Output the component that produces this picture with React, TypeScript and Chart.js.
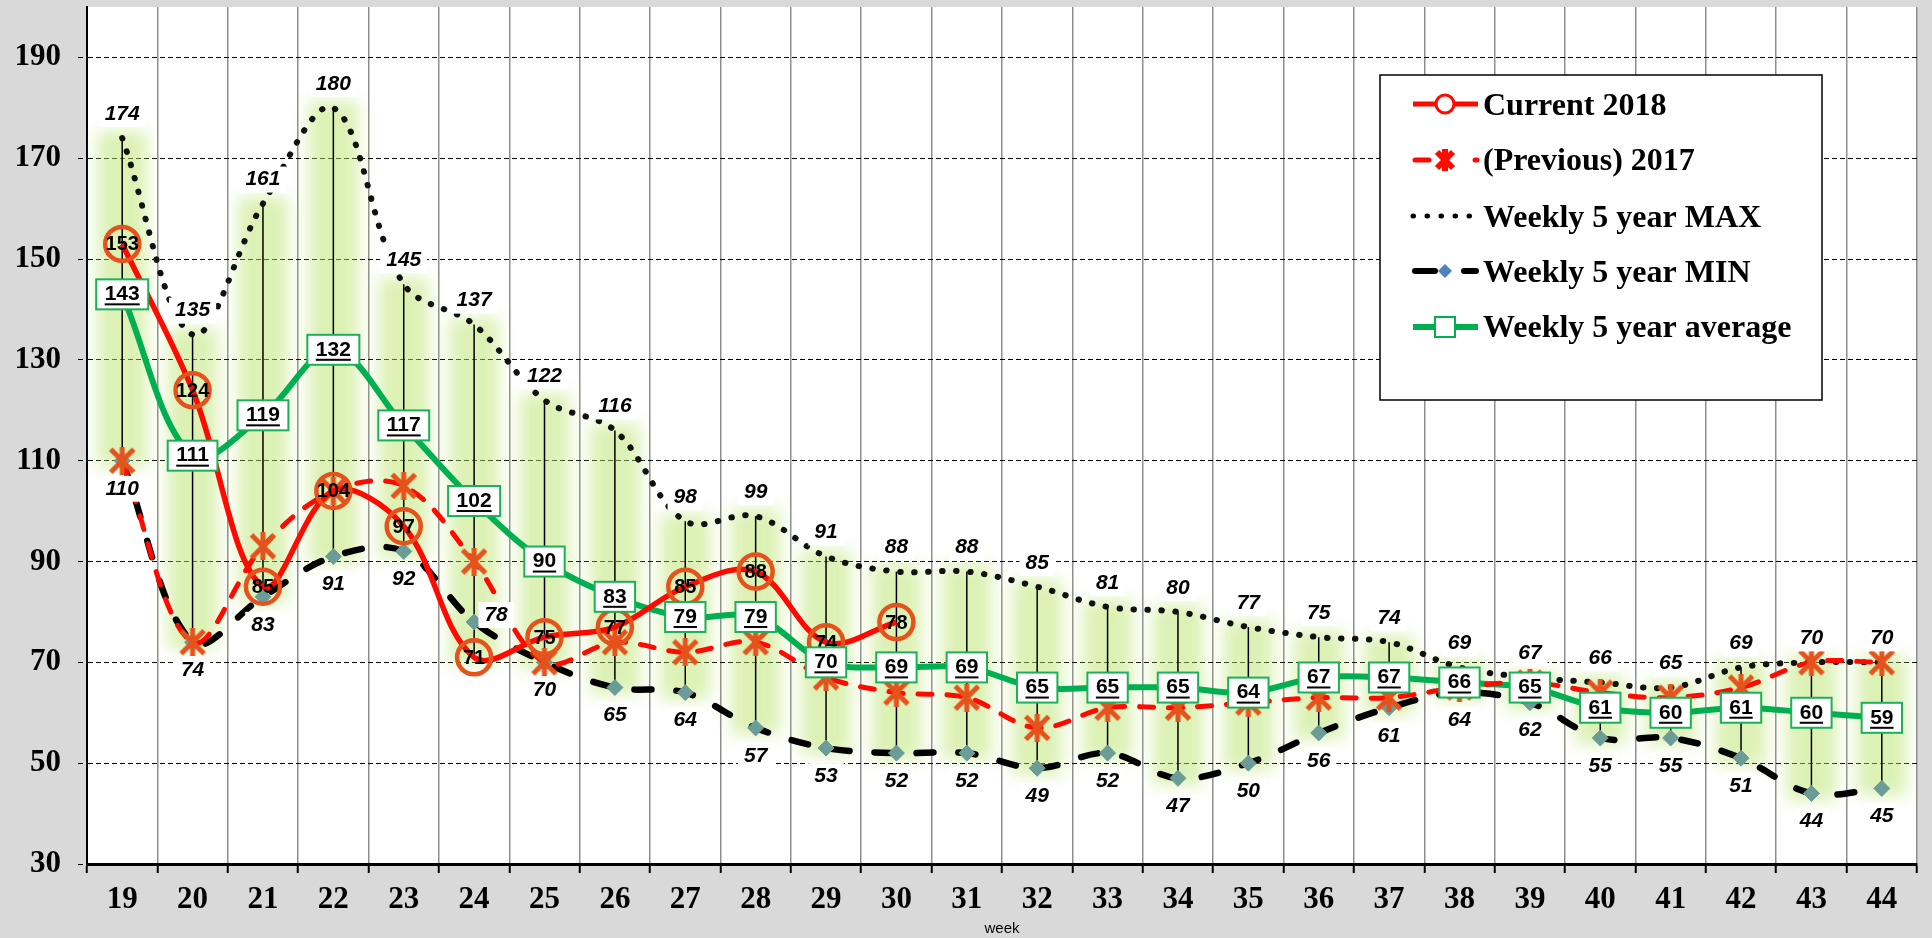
import { useEffect, useRef } from 'react';
import { Chart, registerables } from 'chart.js';

Chart.register(...registerables);

// ---------- data ----------
const weeks = ['19','20','21','22','23','24','25','26','27','28','29','30','31','32','33','34','35','36','37','38','39','40','41','42','43','44'];
const current2018: (number | null)[] = [153,124,85,104,97,71,75,77,85,88,74,78,null,null,null,null,null,null,null,null,null,null,null,null,null,null];
const previous2017 = [110,74,93,104,105,90,70,74,72,74,67,64,63,57,61,61,62,63,63,65,66,64,63,65,70,70];
const max5y = [174,135,161,180,145,137,122,116,98,99,91,88,88,85,81,80,77,75,74,69,67,66,65,69,70,70];
const min5y = [110,74,83,91,92,78,70,65,64,57,53,52,52,49,52,47,50,56,61,64,62,55,55,51,44,45];
const avg5y = [143,111,119,132,117,102,90,83,79,79,70,69,69,65,65,65,64,67,67,66,65,61,60,61,60,59];
const yTicks = [30,50,70,90,110,130,150,170,190];
const legendLabels = ['Current 2018','(Previous) 2017','Weekly 5 year MAX','Weekly 5 year MIN','Weekly 5 year average'];
// min labels that sit beside the point instead of below it (category index)
const minLabelBeside = [5];

// ---------- styles ----------
const RED = '#ff0a00';
const ORANGE = '#e5521b';
const GREEN = '#00b050';
const DIAMOND = '#6b9c97';
const SERIF = '"Liberation Serif", "Times New Roman", serif';
const SANS = '"Liberation Sans", Arial, sans-serif';

function makeStar(size: number, color: string, lw: number) {
  const c = document.createElement('canvas');
  c.width = size; c.height = size;
  const g = c.getContext('2d')!;
  g.strokeStyle = color; g.lineWidth = lw; g.lineCap = 'butt';
  const p = lw / 2;
  g.beginPath();
  g.moveTo(p, p); g.lineTo(size - p, size - p);
  g.moveTo(size - p, p); g.lineTo(p, size - p);
  g.moveTo(size / 2, 0); g.lineTo(size / 2, size);
  g.stroke();
  return c;
}

function bgText(ctx: CanvasRenderingContext2D, t: string, x: number, y: number) {
  const w = ctx.measureText(t).width + 12;
  ctx.fillStyle = '#ffffff';
  ctx.fillRect(x - w / 2, y - 13, w, 26);
  ctx.fillStyle = '#000';
  ctx.fillText(t, x, y);
}

const backgroundPlugin = {
  id: 'bg',
  beforeDraw(chart: any) {
    const { ctx, chartArea: a } = chart;
    ctx.save();
    ctx.fillStyle = '#d9d9d9';
    ctx.fillRect(0, 0, chart.width, chart.height);
    ctx.fillStyle = '#ffffff';
    ctx.fillRect(a.left, a.top, a.right - a.left, a.bottom - a.top);
    ctx.restore();
  },
};

const highLowPlugin = {
  id: 'highlow',
  beforeDatasetsDraw(chart: any) {
    const { ctx, chartArea: a, scales } = chart;
    const x = scales.x, y = scales.y;
    const ext = weeks.map((_, i) => {
      const vals = [current2018[i], previous2017[i], max5y[i], min5y[i], avg5y[i]].filter((v) => v != null) as number[];
      return { hi: y.getPixelForValue(Math.max(...vals)), lo: y.getPixelForValue(Math.min(...vals)), px: x.getPixelForValue(i) };
    });
    ctx.save();
    ctx.beginPath();
    ctx.rect(a.left, a.top, a.right - a.left, a.bottom - a.top);
    ctx.clip();
    ctx.filter = 'blur(8px)';
    ctx.fillStyle = 'rgba(185,228,105,0.5)';
    ext.forEach((e) => ctx.fillRect(e.px - 25, e.hi - 7, 50, e.lo - e.hi + 14));
    ctx.filter = 'none';
    ctx.strokeStyle = '#000';
    ctx.lineWidth = 1.5;
    ext.forEach((e) => {
      ctx.beginPath();
      ctx.moveTo(e.px, e.hi);
      ctx.lineTo(e.px, e.lo);
      ctx.stroke();
    });
    ctx.restore();
  },
};

const labelsPlugin = {
  id: 'labels',
  afterDatasetsDraw(chart: any) {
    const ctx: CanvasRenderingContext2D = chart.ctx;
    const pts = (i: number) => chart.getDatasetMeta(i).data;
    ctx.save();
    ctx.textAlign = 'center';
    ctx.textBaseline = 'middle';
    // current 2018 values on circles
    ctx.font = `bold 20px ${SANS}`;
    ctx.fillStyle = '#000';
    current2018.forEach((v, j) => {
      if (v == null) return;
      const p = pts(0)[j];
      ctx.fillText(String(v), p.x, p.y + 1);
    });
    // max / min
    ctx.font = `italic bold 21px ${SANS}`;
    max5y.forEach((v, j) => {
      const p = pts(2)[j];
      bgText(ctx, String(v), p.x, p.y - 24);
    });
    min5y.forEach((v, j) => {
      const p = pts(3)[j];
      if (minLabelBeside.includes(j)) bgText(ctx, String(v), p.x + 22, p.y - 7);
      else bgText(ctx, String(v), p.x, p.y + 28);
    });
    // average boxes
    ctx.font = `bold 21px ${SANS}`;
    avg5y.forEach((v, j) => {
      const p = pts(4)[j];
      const t = String(v);
      const tw = ctx.measureText(t).width;
      const w = tw + 17;
      ctx.fillStyle = '#fff';
      ctx.fillRect(p.x - w / 2, p.y - 15, w, 30);
      ctx.strokeStyle = '#1cb05a';
      ctx.lineWidth = 2;
      ctx.strokeRect(p.x - w / 2, p.y - 15, w, 30);
      ctx.fillStyle = '#000';
      ctx.fillText(t, p.x, p.y);
      ctx.fillRect(p.x - tw / 2, p.y + 9, tw, 2);
    });
    ctx.restore();
  },
};

function makeLegendPlugin(star: HTMLCanvasElement) {
  return {
    id: 'customLegend',
    afterDraw(chart: any) {
      const ctx: CanvasRenderingContext2D = chart.ctx;
      ctx.save();
      const bx = 1380, by = 75, bw = 442, bh = 325;
      ctx.fillStyle = '#fff';
      ctx.fillRect(bx, by, bw, bh);
      ctx.strokeStyle = '#000';
      ctx.lineWidth = 1.5;
      ctx.strokeRect(bx, by, bw, bh);
      const rows = [104, 160, 216, 271, 327];
      const x0 = 1413, x1 = 1478, xm = 1445;
      // row 1 current
      let y = rows[0];
      ctx.strokeStyle = RED; ctx.lineWidth = 5; ctx.lineCap = 'butt';
      ctx.beginPath(); ctx.moveTo(x0, y); ctx.lineTo(x1, y); ctx.stroke();
      ctx.fillStyle = '#fff'; ctx.lineWidth = 3;
      ctx.beginPath(); ctx.arc(xm, y, 9, 0, Math.PI * 2); ctx.fill(); ctx.stroke();
      // row 2 previous
      y = rows[1];
      ctx.lineWidth = 5; ctx.lineCap = 'round';
      ctx.beginPath(); ctx.moveTo(x0 + 2, y); ctx.lineTo(x0 + 16, y); ctx.stroke();
      ctx.beginPath(); ctx.moveTo(x1 - 3, y); ctx.lineTo(x1 - 1, y); ctx.stroke();
      ctx.drawImage(star, xm - star.width / 2, y - star.height / 2);
      // row 3 max (dotted)
      y = rows[2];
      ctx.strokeStyle = '#000'; ctx.lineWidth = 5; ctx.lineCap = 'round';
      ctx.setLineDash([0.5, 13.5]);
      ctx.beginPath(); ctx.moveTo(x0, y); ctx.lineTo(x1 + 1, y); ctx.stroke();
      ctx.setLineDash([]);
      // row 4 min
      y = rows[3];
      ctx.lineWidth = 6;
      ctx.beginPath(); ctx.moveTo(x0 + 2, y); ctx.lineTo(x0 + 22, y); ctx.stroke();
      ctx.beginPath(); ctx.moveTo(x1 - 14, y); ctx.lineTo(x1 - 2, y); ctx.stroke();
      ctx.fillStyle = '#4f81bd';
      ctx.beginPath(); ctx.moveTo(xm, y - 7); ctx.lineTo(xm + 7, y); ctx.lineTo(xm, y + 7); ctx.lineTo(xm - 7, y); ctx.closePath(); ctx.fill();
      // row 5 avg
      y = rows[4];
      ctx.strokeStyle = GREEN; ctx.lineWidth = 6; ctx.lineCap = 'butt';
      ctx.beginPath(); ctx.moveTo(x0, y); ctx.lineTo(x1, y); ctx.stroke();
      ctx.fillStyle = '#fff'; ctx.lineWidth = 2;
      ctx.fillRect(xm - 10, y - 10, 20, 20); ctx.strokeRect(xm - 10, y - 10, 20, 20);
      // text
      ctx.fillStyle = '#000';
      ctx.font = `bold 32px ${SERIF}`;
      ctx.textAlign = 'left';
      ctx.textBaseline = 'alphabetic';
      const base = [115, 170, 227, 282, 337];
      legendLabels.forEach((t, i) => ctx.fillText(t, 1483, base[i]));
      ctx.restore();
    },
  };
}

export default function App() {
  const ref = useRef<HTMLCanvasElement>(null);
  useEffect(() => {
    const canvas = ref.current!;
    const star = makeStar(28, ORANGE, 5);
    const legendStar = makeStar(22, RED, 6);
    const tickFont = { family: SERIF, size: 31, weight: 'bold' as const };
    const chart = new Chart(canvas, {
      type: 'line',
      data: {
        labels: weeks,
        datasets: [
          {
            label: legendLabels[0], data: current2018, borderColor: RED, borderWidth: 5.5, tension: 0.35,
            pointStyle: 'circle', pointRadius: 17, pointBorderWidth: 4.5, pointBorderColor: ORANGE,
            pointBackgroundColor: 'rgba(255,255,255,0)', spanGaps: false,
          },
          {
            label: legendLabels[1], data: previous2017, borderColor: RED, borderWidth: 5, tension: 0.35,
            borderDash: [14, 15], borderCapStyle: 'round',
            pointStyle: star, pointRadius: 12,
          },
          {
            label: legendLabels[2], data: max5y, borderColor: '#111', borderWidth: 6, tension: 0.35,
            borderDash: [0.5, 13.5], borderCapStyle: 'round', pointRadius: 0,
          },
          {
            label: legendLabels[3], data: min5y, borderColor: '#000', borderWidth: 6.5, tension: 0.35,
            borderDash: [17, 25], borderCapStyle: 'round',
            pointStyle: 'rectRot', pointRadius: 8, pointBackgroundColor: DIAMOND, pointBorderColor: DIAMOND, pointBorderWidth: 1,
          },
          {
            label: legendLabels[4], data: avg5y, borderColor: GREEN, borderWidth: 6, tension: 0.35, pointRadius: 0,
          },
        ],
      },
      options: {
        responsive: false,
        animation: false,
        devicePixelRatio: 1,
        events: [],
        layout: { autoPadding: false, padding: { top: 7, right: 15, left: 0, bottom: 0 } },
        plugins: { legend: { display: false }, tooltip: { enabled: false } },
        scales: {
          x: {
            type: 'category',
            offset: true,
            grid: { offset: true, color: '#8e8e8e', lineWidth: 1.5, tickColor: '#000', tickWidth: 2, tickLength: 9 },
            border: { display: true, color: '#000', width: 3 },
            ticks: { font: tickFont, color: '#000', padding: 8, maxRotation: 0, autoSkip: false },
            title: { display: true, text: 'week', color: '#000', font: { family: SANS, size: 15 }, padding: { top: 0, bottom: 0 } },
            afterFit: (s: any) => { s.height = 74; s.paddingLeft = 0; s.paddingRight = 0; },
          },
          y: {
            min: 30,
            max: 200,
            afterBuildTicks: (s: any) => { s.ticks = yTicks.map((v) => ({ value: v })); },
            grid: { color: '#000', lineWidth: 1, tickColor: '#000', tickLength: 9, tickBorderDash: [5, 3] },
            border: { display: true, color: '#000', width: 2, dash: [5, 3] },
            ticks: { font: tickFont, color: '#000', padding: 17 },
            afterFit: (s: any) => { s.width = 87; s.paddingTop = 0; s.paddingBottom = 0; },
          },
        },
      },
      plugins: [backgroundPlugin, highLowPlugin, labelsPlugin, makeLegendPlugin(legendStar)],
    } as any);
    return () => chart.destroy();
  }, []);
  return (
    <div style={{ position: 'fixed', left: 0, top: 0, width: 1932, height: 938, background: '#d9d9d9', overflow: 'hidden' }}>
      <canvas ref={ref} width={1932} height={938} style={{ display: 'block', width: 1932, height: 938 }} />
    </div>
  );
}
